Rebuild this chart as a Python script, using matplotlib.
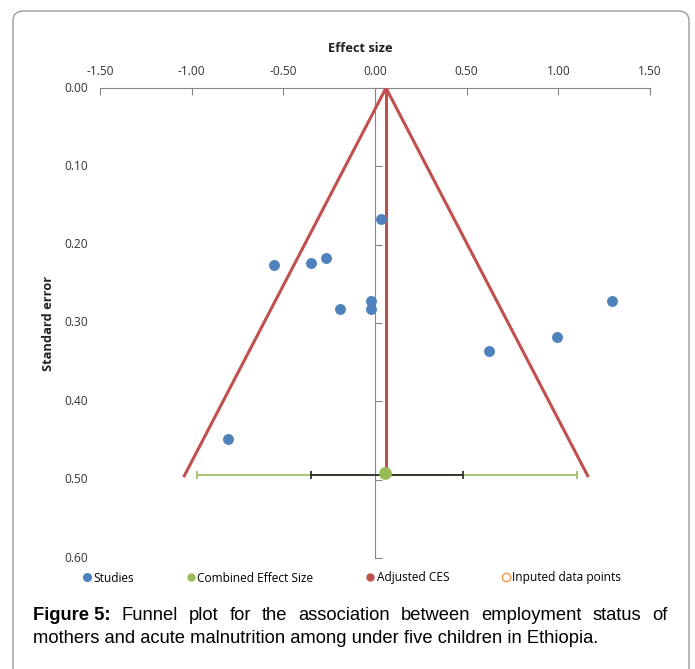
import matplotlib
matplotlib.use("Agg")
import matplotlib.pyplot as plt
from matplotlib.patches import FancyBboxPatch
from matplotlib.lines import Line2D

# study data (effect size, standard error)
study_es = [0.03, -0.55, -0.35, -0.27, -0.19, -0.02, -0.02, 0.62, 0.99, 1.29, -0.80]
study_se = [0.167, 0.226, 0.223, 0.217, 0.282, 0.272, 0.282, 0.336, 0.318, 0.272, 0.448]

combined_es = 0.055
combined_se = 0.491
adjusted_ces = 0.06
funnel_se = 0.495
funnel_lo = -1.04
funnel_hi = 1.16
ci_inner = [-0.35, 0.48]
ci_outer = [-0.97, 1.10]
bar_se = 0.494

x_ticks = [-1.5, -1.0, -0.5, 0.0, 0.5, 1.0, 1.5]
y_ticks = [0.0, 0.1, 0.2, 0.3, 0.4, 0.5, 0.6]

BLUE = "#4F81BD"
GREEN = "#9BBB59"
RED = "#C0504D"
ORANGE = "#F79646"
AXCOL = "#868686"
TICK_FS = 8.6

W, H = 695, 669
fig = plt.figure(figsize=(W / 100, H / 100), dpi=100)

# outer rounded frame
frame = FancyBboxPatch((13 / W, -20 / H), (689 - 13) / W, (H - 11 + 20) / H,
                       boxstyle="round,pad=0,rounding_size=0.015",
                       transform=fig.transFigure, fill=False,
                       edgecolor="#9a9a9a", linewidth=1.0)
fig.patches.append(frame)

ax = fig.add_axes([100 / W, (H - 558) / H, 550 / W, 470 / H])
ax.set_xlim(-1.5, 1.5)
ax.set_ylim(0.6, 0.0)

# axes styling (Excel-like)
for s in ["bottom", "right"]:
    ax.spines[s].set_visible(False)
ax.spines["top"].set_color(AXCOL)
ax.spines["left"].set_color(AXCOL)
ax.spines["left"].set_position(("data", 0))
ax.xaxis.tick_top()
ax.set_xticks(x_ticks)
ax.set_xticklabels([f"{v:.2f}" for v in x_ticks])
ax.tick_params(axis="x", direction="in", length=5, color=AXCOL, pad=7,
               labelsize=TICK_FS, labelcolor="#333333")
ax.set_yticks(y_ticks)
ax.tick_params(axis="y", direction="in", length=5, color=AXCOL, labelleft=False)
for v in y_ticks:
    ax.text(-0.022, v, f"{v:.2f}", transform=ax.get_yaxis_transform(),
            ha="right", va="center", fontsize=TICK_FS, color="#333333",
            family="Open Sans")
for lab in ax.get_xticklabels():
    lab.set_family("Open Sans")

# funnel
ax.plot([funnel_lo, adjusted_ces, funnel_hi], [funnel_se, 0, funnel_se],
        color=RED, linewidth=2.2, zorder=3)
ax.plot([adjusted_ces, adjusted_ces], [0, combined_se], color=RED,
        linewidth=2.2, zorder=3)

# confidence intervals
ax.errorbar([adjusted_ces], [bar_se],
            xerr=[[adjusted_ces - ci_outer[0]], [ci_outer[1] - adjusted_ces]],
            fmt="none", ecolor=GREEN, elinewidth=1.2, capsize=3, capthick=1.2, zorder=4)
ax.errorbar([adjusted_ces], [bar_se],
            xerr=[[adjusted_ces - ci_inner[0]], [ci_inner[1] - adjusted_ces]],
            fmt="none", ecolor="#222222", elinewidth=1.2, capsize=3, capthick=1.2, zorder=5)

ax.scatter(study_es, study_se, s=62, color=BLUE, zorder=6, linewidths=0)
ax.scatter([combined_es], [combined_se], s=85, color=GREEN, zorder=7, linewidths=0)

# axis titles
fig.text(360 / W, 1 - 48 / H, "Effect size", ha="center", va="center",
         fontsize=9.3, fontweight="bold", family="Open Sans", color="#222222")
fig.text(48 / W, 1 - 323 / H, "Standard error", ha="center", va="center",
         rotation=90, fontsize=9.3, fontweight="bold", family="Open Sans",
         color="#222222")

# legend
handles = [
    Line2D([], [], linestyle="none", marker="o", markersize=5.5, color=BLUE),
    Line2D([], [], linestyle="none", marker="o", markersize=5, color=GREEN),
    Line2D([], [], linestyle="none", marker="o", markersize=5, color=RED),
    Line2D([], [], linestyle="none", marker="o", markersize=6, markerfacecolor="white",
           markeredgecolor=ORANGE),
]
labels = ["Studies", "Combined Effect Size", "Adjusted CES", "Inputed data points"]
fig.legend(handles, labels, loc="center left", bbox_to_anchor=(83 / W, 1 - 578 / H),
           ncol=4, frameon=False, handlelength=0.6, handletextpad=0.25,
           columnspacing=4.45, borderaxespad=0, borderpad=0,
           prop={"family": "Open Sans", "size": 8.6})

# caption with a justified first line
cap_left, cap_right = 33 / W, 668 / W
line1 = [("Figure 5:", "bold")] + [(w, "normal") for w in
         "Funnel plot for the association between employment status of".split()]
line2 = "mothers and acute malnutrition among under five children in Ethiopia."
cap_fs = 13.2
fig.canvas.draw()
renderer = fig.canvas.get_renderer()
texts, widths = [], []
for w, wt in line1:
    t = fig.text(0, 1 - 620 / H, w, fontsize=cap_fs, fontweight=wt,
                 family="Liberation Sans", va="baseline", ha="left")
    bb = t.get_window_extent(renderer)
    texts.append(t)
    widths.append(bb.width / W)
gap = (cap_right - cap_left - sum(widths)) / (len(texts) - 1)
x = cap_left
for t, wd in zip(texts, widths):
    t.set_x(x)
    x += wd + gap
fig.text(cap_left, 1 - 643 / H, line2, fontsize=cap_fs, family="Liberation Sans",
         va="baseline", ha="left")

fig.savefig("out.png", dpi=100)
